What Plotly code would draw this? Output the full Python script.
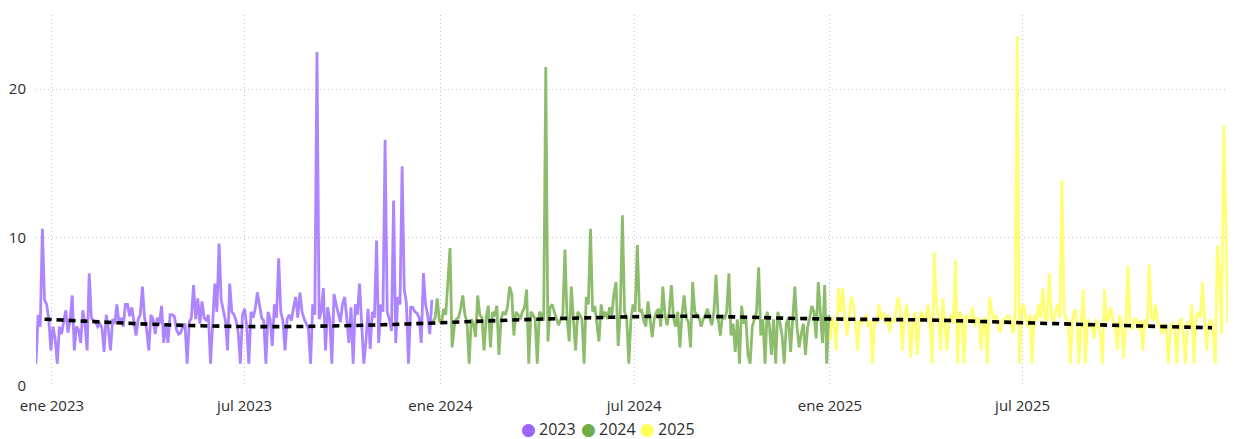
import pandas as pd
import plotly.graph_objects as go

# ---------------- data ----------------
series_names = ["2023", "2024", "2025"]
series_starts = ["2022-12-17", "2023-12-25", "2025-01-01"]
series_colors = ["#9966FF", "#70AD47", "#FFFF55"]

vals_2023 = [1.5,4.8,4.0,10.6,5.8,5.5,4.5,2.4,4.0,3.2,
 1.5,4.0,3.5,4.2,5.1,3.6,4.4,6.1,2.4,4.0,
 3.8,2.9,5.1,4.2,2.4,7.6,4.6,4.4,4.3,4.0,
 4.2,3.9,2.3,4.8,3.8,2.4,4.5,4.2,5.5,4.2,
 4.6,4.0,5.5,5.5,4.7,5.3,4.4,3.4,4.5,4.8,
 6.7,4.6,3.8,2.4,4.8,4.5,3.5,4.6,4.2,5.4,
 2.9,4.2,2.9,4.8,4.8,4.7,3.8,3.5,3.6,4.0,
 4.2,1.5,4.3,4.6,6.8,4.5,5.9,4.2,5.7,4.6,
 4.4,4.8,1.5,4.7,6.9,5.0,9.6,5.8,5.0,4.4,
 2.4,6.9,5.0,4.8,4.4,3.6,1.5,4.8,5.2,4.0,
 1.5,5.0,4.6,5.2,6.3,5.3,4.6,4.4,1.5,5.0,
 4.5,2.7,5.5,4.6,8.6,5.0,4.4,2.4,4.5,4.8,
 4.4,5.3,6.0,4.6,6.3,5.0,4.5,4.2,3.8,1.5,
 5.5,4.8,22.5,4.5,5.0,6.6,2.4,5.3,4.5,1.5,
 6.2,5.5,4.8,4.3,5.5,6.0,4.6,2.9,5.3,1.5,
 5.5,4.8,6.9,4.4,1.5,3.0,5.2,2.5,5.0,4.6,
 9.8,2.9,5.5,5.0,16.6,5.0,4.5,3.7,12.5,2.9,
 6.0,5.5,14.8,6.5,5.6,1.5,5.3,5.3,5.0,4.9,
 4.6,2.9,7.6,5.5,4.8,3.5,5.8]

vals_2024 = [4.3,4.6,5.9,4.4,4.2,5.2,4.8,7.1,9.3,2.6,
 4.0,4.5,4.6,5.2,6.1,4.8,4.3,1.5,4.5,4.2,
 3.3,6.1,4.8,4.6,2.4,4.6,5.4,2.6,5.0,4.7,
 5.4,2.1,4.5,5.0,4.8,5.3,6.7,6.2,3.4,5.0,
 4.8,4.5,5.0,5.3,6.5,1.5,5.0,4.8,4.5,1.5,
 5.0,4.8,4.4,21.5,3.0,5.3,5.5,5.0,4.6,4.1,
 4.5,4.8,9.2,4.5,3.0,6.7,4.5,2.4,5.0,4.8,
 4.5,1.5,6.0,5.5,10.6,5.0,5.4,4.3,3.0,5.5,
 4.6,5.0,4.5,5.3,4.8,6.2,7.0,2.7,5.0,11.5,
 5.0,4.6,1.5,4.5,5.5,5.0,9.5,5.0,5.1,4.4,
 4.0,5.7,4.5,3.3,4.6,5.0,5.2,4.0,6.7,4.8,
 4.1,5.0,6.8,4.6,4.0,5.0,2.6,4.8,6.1,4.6,
 4.3,2.6,7.0,5.0,4.8,4.6,4.0,4.5,4.8,5.2,
 4.6,4.1,5.0,7.5,4.5,3.4,4.8,4.5,5.0,7.6,
 3.4,4.2,2.3,4.5,1.5,5.4,4.2,4.6,2.1,1.5,
 4.0,4.6,5.0,8.0,3.4,4.5,1.5,5.0,4.2,2.1,
 4.5,1.5,5.0,4.3,3.4,1.5,4.2,4.6,2.3,4.5,
 6.7,4.0,2.6,3.5,4.2,2.1,4.0,4.6,5.4,5.0,
 3.2,7.0,5.2,2.9,6.8,1.5,4.8]

vals_2025 = [3.1,4.6,4.2,2.4,6.6,5.0,6.6,4.5,3.4,4.8,
 6.0,5.5,4.3,2.4,4.5,4.2,4.6,4.8,4.0,4.4,
 1.5,4.5,4.2,5.5,4.5,5.0,4.2,4.8,3.6,4.5,
 4.3,5.0,6.0,5.2,2.4,4.6,5.5,4.3,1.9,4.5,
 5.0,2.1,4.4,5.0,4.6,4.4,5.5,4.5,1.5,9.0,
 5.5,4.6,2.4,5.9,4.2,2.4,4.5,4.8,4.2,8.5,
 1.5,5.0,4.6,1.5,4.8,4.4,4.5,5.3,4.0,4.5,
 4.6,2.4,4.3,4.6,1.5,6.0,5.0,4.5,4.8,4.0,
 3.6,4.5,4.3,4.7,4.7,4.4,3.5,4.8,23.6,1.5,
 5.0,5.5,4.6,4.0,4.8,1.5,4.8,4.4,5.5,4.6,
 6.6,4.5,4.4,7.6,4.8,4.3,5.0,5.5,4.6,13.9,
 5.0,4.5,4.2,1.5,4.5,5.2,4.4,1.5,4.2,6.5,
 1.5,4.5,4.0,4.2,3.2,4.5,4.0,3.5,1.5,6.5,
 4.4,4.5,5.3,4.4,4.0,2.4,4.8,4.2,1.9,4.5,
 8.1,4.2,3.8,4.5,4.5,3.8,4.4,2.4,4.5,4.0,
 8.2,4.6,4.4,5.5,4.3,4.0,3.5,4.2,3.8,1.5,
 4.0,4.3,3.6,1.5,4.4,4.5,3.5,1.5,4.3,4.0,
 5.5,1.5,4.5,5.0,4.6,7.0,4.5,2.4,4.2,4.5,
 3.5,1.5,9.5,7.6,3.5,17.6,11.2,4.2]

trend_dates = ["2022-12-25","2023-02-01","2023-04-01","2023-06-01","2023-08-01",
               "2023-10-01","2023-12-01","2024-02-01","2024-04-01","2024-06-01",
               "2024-08-01","2024-10-01","2024-12-01","2025-02-01","2025-04-01",
               "2025-06-01","2025-08-01","2025-10-01","2025-12-01","2025-12-26"]
trend_vals = [4.5,4.37,4.17,4.04,4.0,4.06,4.18,4.35,4.5,4.62,
              4.7,4.66,4.55,4.49,4.45,4.33,4.2,4.08,3.97,3.93]

tick_dates = ["2023-01-01","2023-07-01","2024-01-01","2024-07-01","2025-01-01","2025-07-01"]
tick_labels = ["ene 2023","jul 2023","ene 2024","jul 2024","ene 2025","jul 2025"]

all_vals = [vals_2023, vals_2024, vals_2025]

def rgba(hex_color, a):
    h = hex_color.lstrip("#")
    r, g, b = int(h[0:2], 16), int(h[2:4], 16), int(h[4:6], 16)
    return f"rgba({r},{g},{b},{a})"

fig = go.Figure()
for name, start, col, vals in zip(series_names, series_starts, series_colors, all_vals):
    dates = pd.date_range(start=start, periods=len(vals), freq="2D")
    fig.add_trace(go.Scatter(x=dates, y=vals, mode="lines", name=name,
                             line=dict(color=rgba(col, 0.8), width=2.8),
                             showlegend=False))

fig.add_trace(go.Scatter(x=pd.to_datetime(trend_dates), y=trend_vals, mode="lines",
                         name="Tendencia", line=dict(color="black", width=3.6,
                         dash="7px,5px", shape="spline"), showlegend=False))

font_fam = "Open Sans, Liberation Sans, DejaVu Sans, sans-serif"
tick_font = dict(family=font_fam, size=15, color="#2e2e2e")

fig.update_xaxes(range=["2022-12-17", "2026-01-10"], tickvals=pd.to_datetime(tick_dates),
                 ticktext=tick_labels, showgrid=True, gridcolor="#c2c2c2", griddash="1px,3px",
                 gridwidth=1, zeroline=False, showline=False, ticks="outside", ticklen=6,
                 tickcolor="rgba(0,0,0,0)", tickfont=tick_font)
fig.update_yaxes(range=[0, 25], tickvals=[0, 10, 20], showgrid=True, gridcolor="#c2c2c2",
                 griddash="1px,3px", gridwidth=1, zeroline=False, showline=False,
                 ticks="outside", ticklen=6, tickcolor="rgba(0,0,0,0)", tickfont=tick_font)

# legend drawn as annotations (circle + label) to match the compact look
plot_left, plot_w = 36, 1192
plot_bottom, plot_h = 386, 371
legend_y_px = 429
circle_px = [528, 588, 647]
label_px = [537, 597, 656]
ly = (plot_bottom - legend_y_px) / plot_h
for name, col, cx, tx in zip(series_names, series_colors, circle_px, label_px):
    fig.add_annotation(text="●", xref="paper", yref="paper",
                       x=(cx - plot_left) / plot_w, y=ly, xanchor="center", yanchor="middle",
                       showarrow=False, font=dict(family="DejaVu Sans", size=17, color=col))
    fig.add_annotation(text=name, xref="paper", yref="paper",
                       x=(tx - plot_left) / plot_w, y=ly, xanchor="left", yanchor="middle",
                       showarrow=False, font=dict(family=font_fam, size=16, color="#2e2e2e"))

fig.update_layout(width=1234, height=439, margin=dict(l=36, r=6, t=15, b=53),
                  plot_bgcolor="white", paper_bgcolor="white", showlegend=False)

fig.write_html("out.html", config={"displayModeBar": False},
               post_script="document.body.style.margin='0';document.body.style.overflow='hidden';")
